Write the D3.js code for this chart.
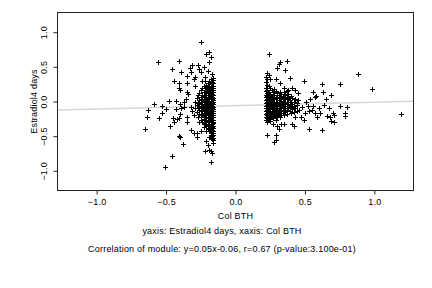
<!DOCTYPE html>
<html>
<head>
<meta charset="utf-8">
<script src="https://cdn.jsdelivr.net/npm/d3@7"></script>
<style>
  body { margin: 0; background: #fff; }
  text { font-family: "Liberation Sans", Arial, Helvetica, sans-serif; letter-spacing: 0.2px; }
</style>
</head>
<body>
<script>
// values: [Col BTH, Estradiol4 days]
var leftSparse = [
  [-0.56,0.57],[-0.59,-0.04],[-0.63,-0.12],[-0.64,-0.23],[-0.55,-0.24],[-0.65,-0.39],
  [-0.51,-0.95],[-0.53,-0.06],[-0.53,-0.16],[-0.50,-0.11],[-0.48,0.01],[-0.46,0.47],
  [-0.47,-0.36],[-0.46,-0.79],[-0.44,0.29],[-0.43,0.01],[-0.43,-0.11],[-0.42,-0.25],
  [-0.45,-0.24],[-0.44,-0.30],[-0.41,0.27],[-0.41,-0.24],[-0.41,0.58],[-0.41,0.19],
  [-0.40,0.17],[-0.39,0.42],[-0.40,-0.03],[-0.39,-0.10],[-0.40,-0.18],[-0.41,-0.50],
  [-0.40,-0.51],[-0.38,-0.62],[-0.37,0.00],[-0.37,-0.08],[-0.36,0.03],[-0.35,-0.22],
  [-0.35,-0.29],[-0.35,0.37],[-0.35,0.26],[-0.35,0.13],[-0.34,0.11],[-0.33,0.49],
  [-0.32,0.43],[-0.31,0.53],[-0.25,0.86],[-0.30,0.32],[-0.29,0.36],[-0.29,0.23],
  [-0.32,-0.08],[-0.31,-0.14],[-0.30,-0.20],[-0.32,-0.41],[-0.30,-0.45],[-0.28,-0.51],
  [-0.28,-0.45],[-0.27,0.53],[-0.26,0.47],[-0.25,0.42],[-0.23,0.50],[-0.22,0.36],
  [-0.21,0.68],[-0.19,0.57],[-0.19,0.71],[-0.18,0.64],[-0.21,-0.57],[-0.22,-0.72],
  [-0.19,-0.70],[-0.18,-0.71],[-0.17,-0.74],[-0.18,-0.87],[-0.19,-0.51],[-0.18,-0.52],
  [-0.17,0.40],[-0.20,0.44],[-0.24,0.30],[-0.16,-0.60],[-0.20,-0.63]
];

var leftDense = [
  [-0.16,0.34],[-0.16,0.31],[-0.16,0.26],[-0.16,0.22],[-0.16,0.19],[-0.16,0.17],[-0.16,0.13],
  [-0.16,0.10],[-0.16,0.05],[-0.16,0.02],[-0.16,-0.01],[-0.16,-0.04],[-0.16,-0.08],[-0.16,-0.11],
  [-0.16,-0.13],[-0.16,-0.17],[-0.16,-0.20],[-0.16,-0.22],[-0.16,-0.26],[-0.16,-0.29],[-0.16,-0.31],
  [-0.16,-0.35],[-0.16,-0.38],[-0.16,-0.42],[-0.16,-0.46],[-0.16,-0.49],[-0.16,-0.53],[-0.16,-0.56],
  [-0.17,0.28],[-0.17,0.23],[-0.17,0.16],[-0.17,0.11],[-0.17,0.07],[-0.17,0.03],[-0.17,-0.02],
  [-0.17,-0.06],[-0.17,-0.10],[-0.17,-0.14],[-0.17,-0.19],[-0.17,-0.23],[-0.17,-0.27],[-0.17,-0.32],
  [-0.17,-0.37],[-0.17,-0.41],[-0.17,-0.45],[-0.17,-0.50],[-0.17,-0.54],
  [-0.18,0.32],[-0.18,0.25],[-0.18,0.20],[-0.18,0.14],[-0.18,0.08],[-0.18,0.04],[-0.18,0.00],
  [-0.18,-0.05],[-0.18,-0.09],[-0.18,-0.12],[-0.18,-0.16],[-0.18,-0.21],[-0.18,-0.25],[-0.18,-0.28],
  [-0.18,-0.33],[-0.18,-0.39],[-0.18,-0.44],[-0.18,-0.48],
  [-0.19,0.30],[-0.19,0.22],[-0.19,0.18],[-0.19,0.12],[-0.19,0.06],[-0.19,0.01],[-0.19,-0.03],
  [-0.19,-0.07],[-0.19,-0.11],[-0.19,-0.15],[-0.19,-0.18],[-0.19,-0.24],[-0.19,-0.29],[-0.19,-0.34],
  [-0.19,-0.38],[-0.19,-0.43],
  [-0.20,0.27],[-0.20,0.21],[-0.20,0.15],[-0.20,0.09],[-0.20,0.05],[-0.20,-0.01],[-0.20,-0.04],
  [-0.20,-0.08],[-0.20,-0.13],[-0.20,-0.17],[-0.20,-0.20],[-0.20,-0.26],[-0.20,-0.30],[-0.20,-0.36],
  [-0.20,-0.40],
  [-0.21,0.24],[-0.21,0.17],[-0.21,0.10],[-0.21,0.04],[-0.21,-0.02],[-0.21,-0.06],[-0.21,-0.10],
  [-0.21,-0.14],[-0.21,-0.19],[-0.21,-0.23],[-0.21,-0.28],[-0.21,-0.35],[-0.21,-0.42],
  [-0.22,0.29],[-0.22,0.19],[-0.22,0.13],[-0.22,0.07],[-0.22,0.02],[-0.22,-0.05],[-0.22,-0.09],
  [-0.22,-0.12],[-0.22,-0.18],[-0.22,-0.22],[-0.22,-0.27],[-0.22,-0.33],
  [-0.23,0.23],[-0.23,0.14],[-0.23,0.08],[-0.23,0.01],[-0.23,-0.04],[-0.23,-0.11],[-0.23,-0.16],
  [-0.23,-0.21],[-0.23,-0.25],[-0.23,-0.31],[-0.23,-0.37],
  [-0.24,0.20],[-0.24,0.10],[-0.24,0.03],[-0.24,-0.03],[-0.24,-0.08],[-0.24,-0.14],[-0.24,-0.20],
  [-0.24,-0.29],
  [-0.25,0.16],[-0.25,0.06],[-0.25,-0.01],[-0.25,-0.07],[-0.25,-0.13],[-0.25,-0.19],[-0.25,-0.26],
  [-0.25,-0.43],
  [-0.26,0.12],[-0.26,0.02],[-0.26,-0.06],[-0.26,-0.12],[-0.26,-0.18],[-0.26,-0.30],
  [-0.27,0.09],[-0.27,-0.02],[-0.27,-0.10],[-0.27,-0.22],
  [-0.28,0.05],[-0.28,-0.05],[-0.28,-0.15],
  [-0.29,0.00],[-0.29,-0.09]
];

var rightSparse = [
  [0.24,0.68],[0.32,0.57],[0.31,0.54],[0.30,0.49],[0.37,0.58],[0.36,0.45],[0.23,0.41],
  [0.24,0.38],[0.25,0.32],[0.29,0.33],[0.32,0.27],[0.39,0.34],[0.49,0.30],[0.62,0.25],
  [0.75,0.25],[0.88,0.40],[0.98,0.18],[1.19,-0.18],[0.23,-0.49],[0.29,-0.49],[0.28,-0.58],
  [0.29,-0.55],[0.31,-0.39],[0.30,-0.36],[0.35,-0.32],[0.33,-0.33],[0.41,-0.33],[0.42,-0.35],
  [0.53,-0.40],[0.62,-0.41],[0.63,0.14],[0.69,0.09],[0.65,0.04],[0.58,0.08],[0.57,0.06],
  [0.56,0.13],[0.54,0.04],[0.51,0.00],[0.80,-0.08],[0.79,-0.17],[0.79,-0.21],[0.75,-0.07],
  [0.70,-0.16],[0.67,-0.10],[0.68,-0.23],[0.69,-0.28],[0.71,-0.29],[0.71,-0.20],[0.66,-0.21],
  [0.61,-0.16],[0.60,-0.09],[0.56,-0.07],[0.55,-0.12],[0.53,-0.14],[0.50,-0.17],[0.48,-0.08],
  [0.47,-0.22],[0.49,-0.26],[0.45,0.02],[0.44,-0.05],[0.43,-0.22],[0.41,0.20],[0.43,0.16],
  [0.45,0.12],[0.39,0.05],[0.38,0.16],[0.35,0.20],[0.37,0.15],[0.59,-0.22],[0.57,-0.17],
  [0.52,-0.06],[0.46,-0.12],[0.64,-0.05]
];

var rightDense = [
  [0.22,0.36],[0.22,0.28],[0.22,0.20],[0.22,0.15],[0.22,0.10],[0.22,0.06],[0.22,0.02],
  [0.22,-0.02],[0.22,-0.06],[0.22,-0.10],[0.22,-0.14],[0.22,-0.18],[0.22,-0.22],[0.22,-0.26],
  [0.23,0.33],[0.23,0.24],[0.23,0.17],[0.23,0.12],[0.23,0.08],[0.23,0.03],[0.23,-0.01],
  [0.23,-0.05],[0.23,-0.09],[0.23,-0.12],[0.23,-0.16],[0.23,-0.20],[0.23,-0.24],[0.23,-0.30],
  [0.24,0.22],[0.24,0.14],[0.24,0.09],[0.24,0.04],[0.24,0.00],[0.24,-0.04],[0.24,-0.08],
  [0.24,-0.13],[0.24,-0.17],[0.24,-0.21],[0.24,-0.25],
  [0.25,0.19],[0.25,0.11],[0.25,0.05],[0.25,0.01],[0.25,-0.03],[0.25,-0.07],[0.25,-0.11],
  [0.25,-0.15],[0.25,-0.19],[0.25,-0.23],[0.25,-0.28],
  [0.26,0.16],[0.26,0.08],[0.26,0.02],[0.26,-0.02],[0.26,-0.06],[0.26,-0.10],[0.26,-0.14],
  [0.26,-0.18],[0.26,-0.22],
  [0.27,0.13],[0.27,0.06],[0.27,-0.01],[0.27,-0.05],[0.27,-0.09],[0.27,-0.13],[0.27,-0.17],
  [0.27,-0.24],[0.27,-0.32],
  [0.28,0.18],[0.28,0.10],[0.28,0.03],[0.28,-0.03],[0.28,-0.08],[0.28,-0.12],[0.28,-0.16],
  [0.28,-0.20],
  [0.29,0.15],[0.29,0.07],[0.29,0.00],[0.29,-0.04],[0.29,-0.10],[0.29,-0.15],[0.29,-0.21],
  [0.29,-0.27],
  [0.30,0.12],[0.30,0.05],[0.30,-0.02],[0.30,-0.07],[0.30,-0.11],[0.30,-0.18],[0.30,-0.23],
  [0.31,0.09],[0.31,0.02],[0.31,-0.05],[0.31,-0.09],[0.31,-0.14],[0.31,-0.19],
  [0.32,0.14],[0.32,0.06],[0.32,-0.01],[0.32,-0.06],[0.32,-0.12],[0.32,-0.17],[0.32,-0.22],
  [0.33,0.11],[0.33,0.04],[0.33,-0.03],[0.33,-0.08],[0.33,-0.13],[0.33,-0.20],
  [0.34,0.08],[0.34,0.01],[0.34,-0.05],[0.34,-0.10],[0.34,-0.16],
  [0.35,0.13],[0.35,0.05],[0.35,-0.02],[0.35,-0.07],[0.35,-0.14],[0.35,-0.19],
  [0.36,0.10],[0.36,0.03],[0.36,-0.04],[0.36,-0.09],[0.36,-0.15],
  [0.37,0.07],[0.37,0.00],[0.37,-0.06],[0.37,-0.12],[0.37,-0.18],
  [0.38,0.11],[0.38,0.04],[0.38,-0.03],[0.38,-0.10],
  [0.39,0.02],[0.39,-0.05],[0.39,-0.13],
  [0.40,0.08],[0.40,-0.01],[0.40,-0.08],[0.40,-0.16],
  [0.41,0.05],[0.41,-0.04],[0.41,-0.11],
  [0.42,0.00],[0.42,-0.07],[0.42,-0.15],
  [0.43,0.03],[0.43,-0.10],
  [0.44,-0.02],[0.44,-0.13]
];

var xTicks = [-1.0, -0.5, 0.0, 0.5, 1.0];
var yTicks = [-1.0, -0.5, 0.0, 0.5, 1.0];
var fitSlope = 0.05, fitIntercept = -0.06;
var xLabel = "Col BTH";
var yLabel = "Estradiol4 days";
var subTitle1 = "yaxis: Estradiol4 days, xaxis: Col BTH";
var subTitle2 = "Correlation of module: y=0.05x-0.06, r=0.67 (p-value:3.100e-01)";

var W = 432, H = 288;
var pL = 57.5, pR = 413.5, pT = 12.5, pB = 190.5;
var fs = '9px';

var svg = d3.select(document.body).append('svg')
  .attr('width', W).attr('height', H)
  .style('display', 'block');

svg.append('rect').attr('width', W).attr('height', H).attr('fill', '#fff');

var x = d3.scaleLinear().domain([-1.282, 1.282]).range([pL, pR]);
var y = d3.scaleLinear().domain([-1.284, 1.284]).range([pB, pT]);

// regression line
var xd = x.domain();
svg.append('line')
  .attr('x1', x(xd[0])).attr('y1', y(fitSlope * xd[0] + fitIntercept))
  .attr('x2', x(xd[1])).attr('y2', y(fitSlope * xd[1] + fitIntercept))
  .attr('stroke', '#d6d6d6').attr('stroke-width', 1.5);

// points
var allPts = leftSparse.concat(leftDense, rightSparse, rightDense);
svg.append('g').selectAll('path')
  .data(allPts)
  .enter()
  .append('path')
  .attr('transform', function(d){
    return 'translate(' + (Math.round(x(d[0])) + 0.5) + ',' + (Math.round(y(d[1])) + 0.5) + ')';
  })
  .attr('d', 'M-2.5,0H2.5M0,-2.5V2.5')
  .attr('stroke', '#000').attr('stroke-width', 1).attr('fill', 'none');

// box
svg.append('rect')
  .attr('x', pL).attr('y', pT)
  .attr('width', pR - pL).attr('height', pB - pT)
  .attr('fill', 'none').attr('stroke', '#222').attr('stroke-width', 1);

// x axis
var gx = svg.append('g')
  .attr('transform', 'translate(0,' + pB + ')')
  .call(d3.axisBottom(x).tickValues(xTicks).tickFormat(d3.format('.1f')).tickSize(4).tickSizeOuter(0));
gx.select('.domain').remove();
gx.selectAll('line').attr('stroke', '#222');
gx.selectAll('text')
  .attr('y', 14.5).attr('dy', null)
  .style('font-size', fs).attr('fill', '#000');

// y axis
var gy = svg.append('g')
  .attr('transform', 'translate(' + pL + ',0)')
  .call(d3.axisLeft(y).tickValues(yTicks).tickFormat(d3.format('.1f')).tickSize(4).tickSizeOuter(0));
gy.select('.domain').remove();
gy.selectAll('line').attr('stroke', '#222');
gy.selectAll('text')
  .attr('x', null).attr('dy', null)
  .attr('transform', 'translate(-11,0) rotate(-90)')
  .attr('text-anchor', 'middle')
  .attr('y', 0)
  .style('font-size', fs).attr('fill', '#000');

// labels
svg.append('text')
  .attr('x', (pL + pR) / 2).attr('y', 219)
  .attr('text-anchor', 'middle')
  .style('font-size', fs)
  .text(xLabel);

svg.append('text')
  .attr('transform', 'translate(36.5,' + ((pT + pB) / 2) + ') rotate(-90)')
  .attr('text-anchor', 'middle')
  .style('font-size', fs)
  .text(yLabel);

svg.append('text')
  .attr('x', 222).attr('y', 234)
  .attr('text-anchor', 'middle')
  .style('font-size', fs)
  .text(subTitle1);

svg.append('text')
  .attr('x', 222).attr('y', 252)
  .attr('text-anchor', 'middle')
  .style('font-size', fs)
  .text(subTitle2);
</script>
</body>
</html>
